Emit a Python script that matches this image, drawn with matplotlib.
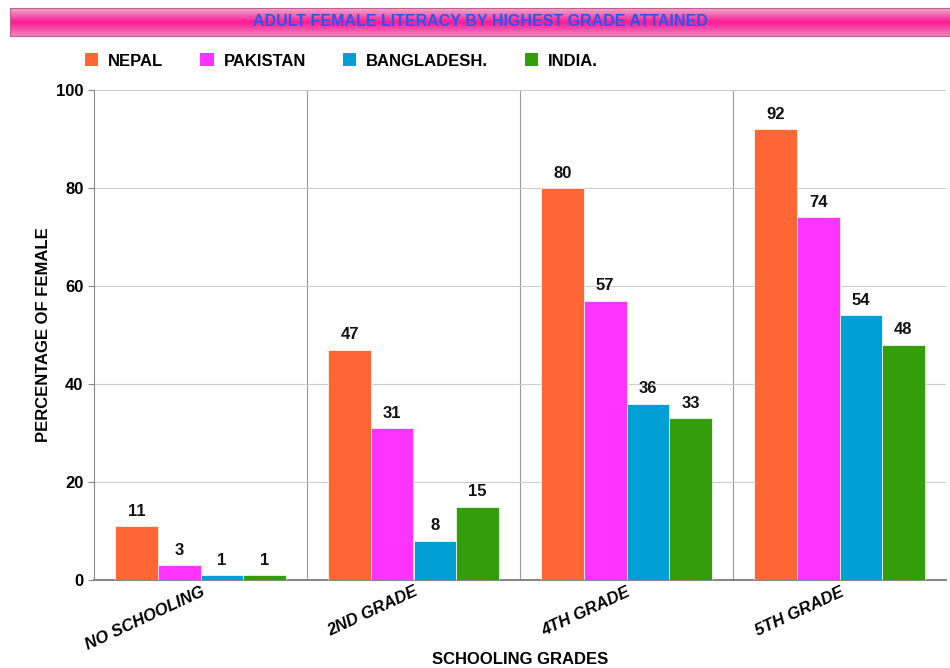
import numpy as np
import matplotlib
matplotlib.use("Agg")
import matplotlib.pyplot as plt
from matplotlib.patches import Patch
from matplotlib.colors import LinearSegmentedColormap

categories = ["NO SCHOOLING", "2ND GRADE", "4TH GRADE", "5TH GRADE"]
series_names = ["NEPAL", "PAKISTAN", "BANGLADESH.", "INDIA."]
nepal = [11, 47, 80, 92]
pakistan = [3, 31, 57, 74]
bangladesh = [1, 8, 36, 54]
india = [1, 15, 33, 48]
yticks = [0, 20, 40, 60, 80, 100]
colors = ["#ff6633", "#ff33ff", "#009fd6", "#339e0a"]

plt.rcParams['font.family'] = ['Liberation Sans', 'DejaVu Sans']

fig = plt.figure(figsize=(9.5, 6.68), dpi=100)

# title banner
bax = fig.add_axes([10/950, 1-36/668, 940/950, 28/668])
grad = np.concatenate([np.linspace(0, 1, 50), np.linspace(1, 0.3, 50)])[:, None]
cmap = LinearSegmentedColormap.from_list("b", ["#eab0cf", "#ff1a96"])
bax.imshow(grad, aspect='auto', cmap=cmap, extent=[0, 1, 0, 1])
bax.set_xticks([]); bax.set_yticks([])
for s in bax.spines.values():
    s.set_color("#c06090"); s.set_linewidth(0.8)
bax.text(0.5, 0.5, "ADULT FEMALE LITERACY BY HIGHEST GRADE ATTAINED", ha='center', va='center',
         color="#2a55f0", fontsize=11.5, fontweight='heavy', transform=bax.transAxes)

ax = fig.add_axes([94/950, 1-580/668, 852/950, 490/668])
data = [nepal, pakistan, bangladesh, india]
x = np.arange(len(categories))
w = 0.2
for i, (vals, c) in enumerate(zip(data, colors)):
    pos = x + (i - 1.5) * w
    bars = ax.bar(pos, vals, width=w, color=c, edgecolor='white', linewidth=0.5, zorder=3)
    for b, v in zip(bars, vals):
        ax.text(b.get_x() + b.get_width()/2, v + 1.5, str(v), ha='center', va='bottom',
                fontsize=12, fontweight='bold', color='#111111', zorder=4)

ax.set_xlim(-0.5, len(categories) - 0.5)
ax.set_ylim(0, 100)
ax.set_yticks(yticks)
ax.set_yticklabels([str(t) for t in yticks], fontsize=12, fontweight='bold')
ax.set_xticks(x)
ax.set_xticklabels(categories, rotation=25, ha='right', fontsize=12, fontweight='bold', style='italic',
                   rotation_mode='anchor')
ax.tick_params(axis='x', length=0, pad=3)
ax.tick_params(axis='y', length=4, color='#888888')
ax.yaxis.grid(True, color='#cccccc', linewidth=0.8, zorder=0)
for b in [0.5, 1.5, 2.5]:
    ax.axvline(b, color='#999999', linewidth=0.8, zorder=1)
for s in ['top', 'right']:
    ax.spines[s].set_visible(False)
ax.spines['left'].set_color('#888888')
ax.spines['bottom'].set_color('#888888')
ax.spines['bottom'].set_linewidth(1.5)
ax.set_ylabel("PERCENTAGE OF FEMALE", fontsize=12, fontweight='bold', labelpad=4)
fig.text(520/950, 1-659/668, "SCHOOLING GRADES", ha='center', va='center', fontsize=12, fontweight='bold')

handles = [Patch(facecolor=c, label=n) for c, n in zip(colors, series_names)]
fig.legend(handles=handles, loc='center left', bbox_to_anchor=(70/950, 1-61/668), ncol=4, frameon=False,
           prop={'weight': 'bold', 'size': 12}, handlelength=0.8, handleheight=0.8, columnspacing=2.2,
           handletextpad=0.6)

fig.savefig("out.png", dpi=100)
